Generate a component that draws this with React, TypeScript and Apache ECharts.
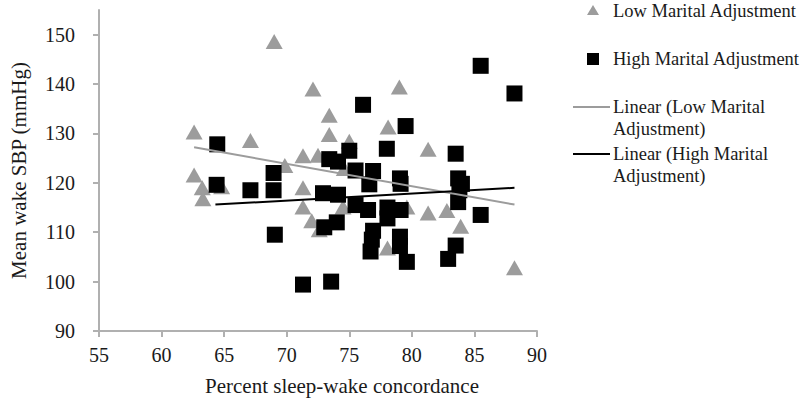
import React, { useEffect, useRef } from "react";
import * as echarts from "echarts";

const lowAdjustment: [number, number][] = [
  [62.6, 130.3], [62.6, 121.6], [63.25, 119.0], [63.3, 116.8], [64.8, 119.2],
  [67.1, 128.6], [69.0, 148.6], [69.85, 123.5], [71.3, 125.5], [71.3, 119.0],
  [71.3, 115.1], [72.0, 112.3], [72.1, 139.0], [72.5, 125.6], [72.6, 110.5],
  [73.4, 133.7], [73.4, 129.8], [74.6, 122.9], [74.5, 115.1], [75.0, 128.4],
  [78.1, 131.3], [79.0, 139.4], [78.05, 106.8], [79.6, 115.1], [81.3, 126.8],
  [81.3, 113.9], [82.8, 114.4], [83.9, 111.2], [88.2, 102.8],
];

const highAdjustment: [number, number][] = [
  [64.45, 127.8], [64.4, 119.6], [67.1, 118.5], [68.95, 122.0], [68.95, 118.5],
  [69.05, 109.5], [71.3, 99.4], [73.55, 100.0], [72.9, 117.9], [74.1, 117.6],
  [73.0, 111.0], [74.0, 112.0], [73.4, 124.8], [74.1, 124.3], [75.0, 126.5],
  [76.1, 135.8], [75.5, 122.5], [76.9, 122.4], [76.6, 119.7], [75.5, 115.5],
  [76.5, 114.5], [76.8, 108.5], [76.7, 106.1], [76.9, 110.3], [78.0, 126.9],
  [78.05, 115.0], [78.05, 112.8], [79.5, 131.5], [79.05, 120.9], [79.1, 119.8],
  [79.1, 114.5], [79.05, 109.1], [79.05, 107.2], [79.6, 104.0], [82.9, 104.6],
  [83.5, 107.3], [83.5, 125.9], [83.7, 120.9], [84.0, 119.8], [83.8, 118.5],
  [83.7, 116.1], [85.5, 113.5], [85.5, 143.7], [88.2, 138.1],
];

const lowTrend: [number, number][] = [[62.6, 127.2], [88.2, 115.6]];
const highTrend: [number, number][] = [[64.3, 115.6], [88.2, 119.0]];

const yTicks = [90, 100, 110, 120, 130, 140, 150];

const seriesNames = [
  "Low Marital Adjustment",
  "High Marital Adjustment",
  "Linear (Low Marital\nAdjustment)",
  "Linear (High Marital\nAdjustment)",
];

const FONT = "Liberation Serif";
const GRAY = "#9c9c9c";
const AXIS = "#b0b0b0";
const TEXT = "#1a1a1a";

const tickRich = { t: { fontFamily: FONT, fontSize: 20, color: TEXT } };

export default function App() {
  const ref = useRef<HTMLDivElement>(null);

  useEffect(() => {
    if (!ref.current) return;
    const chart = echarts.init(ref.current, undefined, { renderer: "svg" });
    chart.setOption({
      animation: false,
      backgroundColor: "#ffffff",
      textStyle: { fontFamily: FONT },
      grid: { left: 96, right: 263, top: 10, bottom: 76, containLabel: false },
      xAxis: {
        type: "value",
        min: 55,
        max: 90,
        interval: 5,
        name: "Percent sleep-wake concordance",
        nameLocation: "middle",
        nameGap: 44,
        nameTextStyle: { fontFamily: FONT, fontSize: 21, color: TEXT, padding: [0, 0, 0, 48] },
        axisLine: { lineStyle: { color: AXIS, width: 2 } },
        axisTick: { show: true, length: 6, lineStyle: { color: AXIS, width: 2 } },
        axisLabel: {
          fontFamily: FONT,
          fontSize: 20,
          color: TEXT,
          margin: 14,
          formatter: (v: number) => `{t|${v}}`,
          rich: tickRich,
        },
        splitLine: { show: false },
      },
      yAxis: {
        type: "value",
        min: 90,
        max: 155,
        interval: 10,
        name: "Mean wake SBP (mmHg)",
        nameLocation: "middle",
        nameGap: 70,
        nameTextStyle: { fontFamily: FONT, fontSize: 21, color: TEXT },
        axisLine: { show: true, lineStyle: { color: AXIS, width: 2 } },
        axisTick: { show: true, length: 6, lineStyle: { color: AXIS, width: 2 }, customValues: yTicks },
        axisLabel: {
          fontFamily: FONT,
          fontSize: 20,
          color: TEXT,
          margin: 24,
          showMaxLabel: false,
          formatter: (v: number) => (yTicks.indexOf(v) >= 0 ? `{t|${v}}` : ""),
          rich: tickRich,
        },
        splitLine: { show: false },
      },
      series: [
        {
          name: seriesNames[0],
          type: "scatter",
          symbol: "triangle",
          symbolSize: [17, 15],
          itemStyle: { color: GRAY, opacity: 1 },
          data: lowAdjustment,
          z: 2,
        },
        {
          name: seriesNames[1],
          type: "scatter",
          symbol: "rect",
          symbolSize: 16,
          itemStyle: { color: "#000000", opacity: 1 },
          data: highAdjustment,
          z: 3,
        },
        {
          name: seriesNames[2],
          type: "line",
          symbol: "none",
          lineStyle: { color: GRAY, width: 2 },
          data: lowTrend,
          z: 4,
        },
        {
          name: seriesNames[3],
          type: "line",
          symbol: "none",
          lineStyle: { color: "#000000", width: 2 },
          data: highTrend,
          z: 5,
        },
      ],
      graphic: [
        { type: "polygon", shape: { points: [[593, 5], [599, 15], [587, 15]] }, style: { fill: GRAY } },
        { type: "text", x: 613, y: 11, style: { text: seriesNames[0], font: `18.5px ${FONT}`, fill: TEXT, verticalAlign: "middle" } },
        { type: "rect", shape: { x: 587, y: 53, width: 12, height: 12 }, style: { fill: "#000" } },
        { type: "text", x: 613, y: 59, style: { text: seriesNames[1], font: `18.5px ${FONT}`, fill: TEXT, verticalAlign: "middle" } },
        { type: "line", shape: { x1: 573, y1: 107, x2: 610, y2: 107 }, style: { stroke: GRAY, lineWidth: 2 } },
        { type: "text", x: 613, y: 96, style: { text: seriesNames[2], font: `18.5px ${FONT}`, fill: TEXT, lineHeight: 22, verticalAlign: "top" } },
        { type: "line", shape: { x1: 573, y1: 154, x2: 610, y2: 154 }, style: { stroke: "#000", lineWidth: 2 } },
        { type: "text", x: 613, y: 143, style: { text: seriesNames[3], font: `18.5px ${FONT}`, fill: TEXT, lineHeight: 22, verticalAlign: "top" } },
      ],
    });
    return () => chart.dispose();
  }, []);

  return <div ref={ref} style={{ width: 800, height: 407, position: "absolute", left: 0, top: 0 }} />;
}
